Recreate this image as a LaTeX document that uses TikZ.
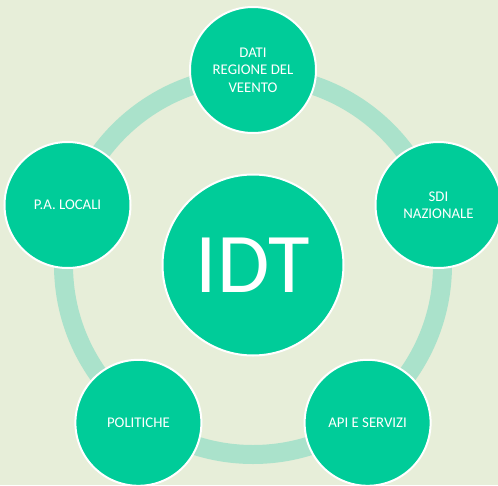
\documentclass[tikz,border=0pt]{standalone}
\usepackage{fontspec}
\setmainfont{Carlito}
\definecolor{bgc}{HTML}{E7EED9}
\definecolor{ringc}{HTML}{AAE2CB}
\definecolor{discc}{HTML}{00CC99}
\tikzset{
  disc/.style={circle, fill=discc, draw=white, line width=2pt, inner sep=0pt,
    minimum size=126pt, align=center, text=white,
    font=\fontsize{14.8}{17.3}\selectfont},
  hub/.style={disc, minimum size=181pt, font=\fontsize{85}{90}\selectfont},
  ringline/.style={draw=ringc, line width=19pt}
}
\begin{document}
\begin{tikzpicture}[x=1pt,y=-1pt]
\fill[bgc] (0,0) rectangle (498,485);
\useasboundingbox (0,0) rectangle (498,485);
\coordinate (c) at (253,265);
\draw[ringline] (c) circle[radius=189.5];
\node[hub] (idt) at (c) {IDT};
\node[disc] (dati) at (253,70) {DATI\\REGIONE DEL\\VEENTO};
\node[disc] (sdi) at (438.5,205) {SDI\\NAZIONALE};
\node[disc] (api) at (367.6,422.8) {API E SERVIZI};
\node[disc] (pol) at (138.4,422.8) {POLITICHE};
\node[disc] (pa) at (67.5,205) {P.A. LOCALI};
\end{tikzpicture}
\end{document}
